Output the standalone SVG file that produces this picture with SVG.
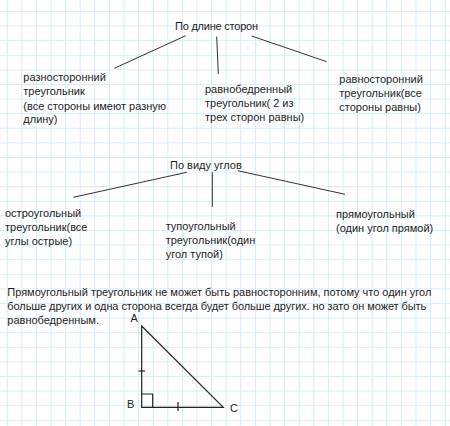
<svg xmlns="http://www.w3.org/2000/svg" width="450" height="426" viewBox="0 0 450 426">
<style>
text{font-family:"Liberation Sans",Arial,sans-serif;font-size:11px;fill:#1e1e1e}
.c{stroke:#333;stroke-width:1;fill:none}
.t{stroke:#222;stroke-width:1.2;fill:none}
</style>
<defs>
<pattern id="grid" patternUnits="userSpaceOnUse" x="6.7" y="11" width="14.6" height="14.6">
<path d="M0.5 0V14.6M0 0.5H14.6" stroke="#d3eef6" stroke-width="1" fill="none"/>
</pattern>
</defs>
<rect width="450" height="426" fill="#fff"/>
<rect width="450" height="426" fill="url(#grid)"/>
<g id="connectors">
<line class="c" x1="185.7" y1="35.7" x2="114.3" y2="68.3"/>
<line class="c" x1="216.7" y1="36.7" x2="218.3" y2="74"/>
<line class="c" x1="251.7" y1="36" x2="326.7" y2="61.7"/>
<line class="c" x1="186.7" y1="172.3" x2="73.3" y2="197.3"/>
<line class="c" x1="212.3" y1="172.3" x2="212.3" y2="206.7"/>
<line class="c" x1="237.7" y1="170.7" x2="345" y2="194.3"/>
</g>
<g id="side-root"><text x="175" y="30" textLength="83" lengthAdjust="spacing">По длине сторон</text></g>
<g id="scalene"><text x="23.3" y="81">разносторонний</text><text x="23.3" y="95">треугольник</text><text x="23.3" y="110">(все стороны имеют разную</text><text x="23.3" y="123">длину)</text></g>
<g id="isosceles"><text x="205" y="93">равнобедренный</text><text x="205" y="107">треугольник( 2 из</text><text x="205" y="121">трех сторон равны)</text></g>
<g id="equilateral"><text x="339.3" y="83">равносторонний</text><text x="339.3" y="97">треугольник(все</text><text x="339.3" y="111">стороны равны)</text></g>
<g id="angle-root"><text x="170" y="169">По виду углов</text></g>
<g id="acute"><text x="5" y="217">остроугольный</text><text x="5" y="231">треугольник(все</text><text x="5" y="245">углы острые)</text></g>
<g id="obtuse"><text x="165.7" y="230">тупоугольный</text><text x="165.7" y="243.5">треугольник(один</text><text x="165.7" y="257.5">угол тупой)</text></g>
<g id="right"><text x="336" y="217.5">прямоугольный</text><text x="336" y="232">(один угол прямой)</text></g>
<g id="note">
<text x="7.3" y="296" textLength="424" lengthAdjust="spacing">Прямоугольный треугольник не может быть равносторонним, потому что один угол</text>
<text x="7.3" y="309.5" textLength="419" lengthAdjust="spacing">больше других и одна сторона всегда будет больше других. но зато он может быть</text>
<text x="7.3" y="323.5">равнобедренным.</text>
</g>
<g id="triangle">
<path class="t" d="M141.7 326V407.3H223.3Z"/>
<path class="t" d="M141.7 394H152.7V407.3"/>
<line class="t" x1="138.5" y1="371" x2="145" y2="371"/>
<line class="t" x1="178" y1="402" x2="178" y2="411"/>
<text x="130.5" y="322">A</text>
<text x="127" y="408">B</text>
<text x="230" y="412">C</text>
</g>
</svg>
